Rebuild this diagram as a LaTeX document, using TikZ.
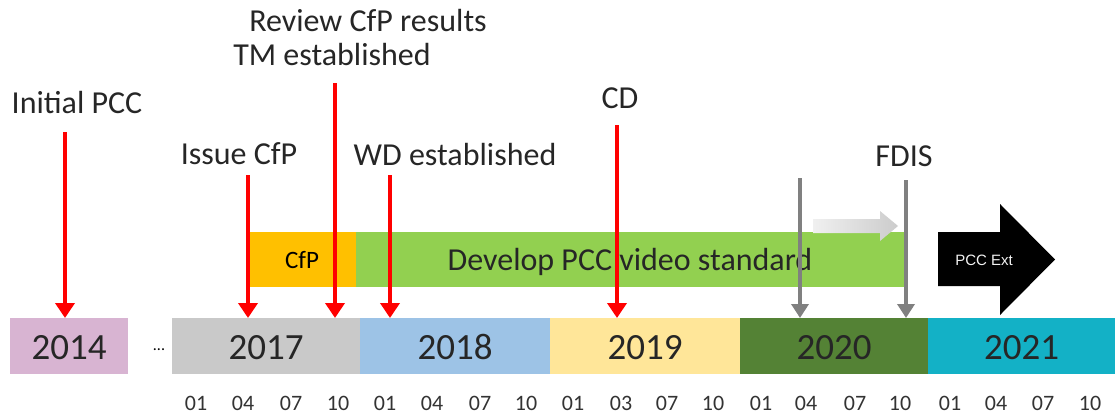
\documentclass[tikz,border=0pt]{standalone}
\usepackage{fontspec}
\setmainfont{Carlito}
\newfontfamily\arialfont{Liberation Sans}
\usetikzlibrary{arrows.meta}
\definecolor{c2014}{HTML}{D8B4D2}
\definecolor{c2017}{HTML}{C9C9C9}
\definecolor{c2018}{HTML}{9DC3E6}
\definecolor{c2019}{HTML}{FFE699}
\definecolor{c2020}{HTML}{548235}
\definecolor{c2021}{HTML}{13B1C6}
\definecolor{cfpbar}{HTML}{FFC000}
\definecolor{devbar}{HTML}{92D050}
\begin{document}
\begin{tikzpicture}[x=1pt,y=1pt]
    \tikzstyle{every node}+=[inner sep=0pt]
    \tikzstyle{year}=[anchor=north west, minimum height=56]
    \tikzstyle{yeartxt}=[anchor=base, font=\fontsize{37}{37}\selectfont, text=black!85]
    \tikzstyle{label}=[anchor=base, font=\fontsize{32}{32}\selectfont, text=black!85]
    \tikzstyle{redarr}=[red, line width=4, -{Triangle[width=19,length=15]}]
    \tikzstyle{grayarr}=[gray, line width=3.5, -{Triangle[width=17,length=14]}]
    \useasboundingbox (0,0) rectangle (1115,-415);
    % years
    \node [year, fill=c2014, minimum width=118] (y2014) at (10,-318) {};
    \node [font=\fontsize{16}{16}\selectfont] (dots) at (159,-350) {...};
    \node [year, fill=c2017, minimum width=188] (y2017) at (172,-318) {};
    \node [year, fill=c2018, minimum width=190] (y2018) at (360,-318) {};
    \node [year, fill=c2019, minimum width=190] (y2019) at (550,-318) {};
    \node [year, fill=c2020, minimum width=188] (y2020) at (740,-318) {};
    \node [year, fill=c2021, minimum width=187] (y2021) at (928,-318) {};
    \foreach \yr in {2014,2017,2018,2019,2020,2021}
        \node [yeartxt] (t\yr) at ([yshift=-13]y\yr.center) {\yr};
    % months
    \foreach \x/\m [count=\i] in {196/01,243/04,291/07,338/10,385/01,432/04,480/07,526/10,
        573/01,621/03,667/07,713/10,761/01,806/04,855/07,900/10,950/01,996/04,1043/07,1090/10}
        \node [anchor=base, font=\fontsize{22}{22}\selectfont, text=black!80] (m\i) at (\x,-410) {\m};
    % bars
    \node [anchor=north west, fill=cfpbar, minimum width=106, minimum height=55] (cfp) at (250,-232) {};
    \node [anchor=base, font=\fontsize{25}{25}\selectfont] (cfptxt) at (302,-268) {CfP};
    \node [anchor=north west, fill=devbar, minimum width=549, minimum height=55] (dev) at (356,-232) {};
    \node [label] (devtxt) at (630,-270) {Develop PCC video standard};
    \shade [left color=gray!12, right color=gray!40]
        (813,-219) -- (880,-219) -- (880,-211) -- (898,-226) -- (880,-241) -- (880,-233) -- (813,-233) -- cycle;
    \fill [black] (938,-232) -- (1000,-232) -- (1000,-204) -- (1055,-259.5) -- (1000,-315) -- (1000,-286) -- (938,-286) -- cycle;
    \node [text=white!90!gray, font=\fontsize{15}{15}\arialfont] (ext) at (984,-260) {PCC Ext};
    % milestones
    \node [label] (pcc) at (77,-113) {Initial PCC};
    \node [label] (issue) at (239,-164) {Issue CfP};
    \node [label] (review) at (368,-31) {Review CfP results};
    \node [label] (tm) at (332,-65) {TM established};
    \node [label] (wd) at (455,-165) {WD established};
    \node [label] (cd) at (620,-108) {CD};
    \node [label] (fdis) at (904,-166) {FDIS};
    \coordinate (a1) at (65,-132);
    \coordinate (a2) at (248,-175);
    \coordinate (a3) at (335,-83);
    \coordinate (a4) at (390,-175);
    \coordinate (a5) at (617,-125);
    \coordinate (g1) at (800,-178);
    \coordinate (g2) at (906,-180);
    \draw [redarr] (a1) -- (a1 |- y2014.north);
    \draw [redarr] (a2) -- (a2 |- y2017.north);
    \draw [redarr] (a3) -- (a3 |- y2017.north);
    \draw [redarr] (a4) -- (a4 |- y2018.north);
    \draw [redarr] (a5) -- (a5 |- y2019.north);
    \draw [grayarr] (g1) -- (g1 |- y2020.north);
    \draw [grayarr] (g2) -- (g2 |- y2020.north);
\end{tikzpicture}
\end{document}
